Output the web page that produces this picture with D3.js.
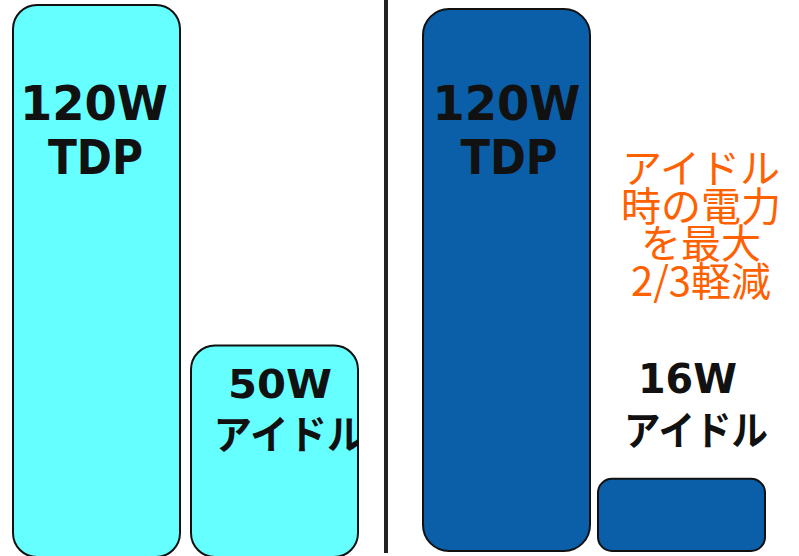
<!DOCTYPE html>
<html>
<head>
<meta charset="utf-8">
<script src="https://cdn.jsdelivr.net/npm/d3@7"></script>
<style>
  html, body { margin: 0; padding: 0; background: #fff; }
  svg { display: block; }
</style>
</head>
<body>
<svg id="chart" width="799" height="556"></svg>
<script>
// ---- data ----
const leftCategories = ["TDP", "アイドル"];
const leftValues = [120, 46];          // bar heights as drawn (W scale)
const leftLabelsTop = ["120W", "50W"];
const leftLabelsBottom = ["TDP", "アイドル"];

const rightCategories = ["TDP", "アイドル"];
const rightValues = [120, 16];
const rightLabelsTop = ["120W", "16W"];
const rightLabelsBottom = ["TDP", "アイドル"];

const noteLines = ["アイドル", "時の電力", "を最大", "2/3軽減"];

// ---- setup ----
const svg = d3.select("#chart");
const LATIN = "'DejaVu Sans', Verdana, sans-serif";
const CJK = "'Noto Sans CJK JP', 'Noto Sans', sans-serif";

const xLeft = d3.scaleBand().domain(d3.range(leftValues.length)).range([13, 358]).paddingInner(0.0618).paddingOuter(0);
const yLeft = d3.scaleLinear().domain([0, 120]).range([557, 5]);
const xRight = d3.scaleBand().domain(d3.range(rightValues.length)).range([423, 765]).paddingInner(0.0457).paddingOuter(0);
const yRight = d3.scaleLinear().domain([0, 120]).range([551, 9]);

const defs = svg.append("defs");

function drawPanel(id, values, x, y, fill, radii, topLabels, bottomLabels, labelCfg) {
  const g = svg.append("g").attr("class", id);
  values.forEach((v, i) => {
    const bx = x(i), bw = x.bandwidth(), by = y(v), bh = y(0) - y(v);
    const clipId = id + "-clip-" + i;
    defs.append("clipPath").attr("id", clipId)
      .append("rect").attr("x", bx).attr("y", by).attr("width", bw).attr("height", bh)
      .attr("rx", radii[i]).attr("ry", radii[i]);
    g.append("rect")
      .attr("x", bx).attr("y", by).attr("width", bw).attr("height", bh)
      .attr("rx", radii[i]).attr("ry", radii[i])
      .attr("fill", fill).attr("stroke", "#111").attr("stroke-width", 2);
    const c = labelCfg[i];
    const tg = g.append("g").attr("clip-path", c.clip ? `url(#${clipId})` : null);
    tg.append("text")
      .attr("x", bx + bw / 2 + c.topDx).attr("y", c.topY)
      .attr("text-anchor", "middle")
      .attr("font-family", LATIN).attr("font-weight", "bold")
      .attr("font-size", c.topSize).attr("fill", "#111")
      .attr("textLength", c.topLen).attr("lengthAdjust", "spacingAndGlyphs")
      .text(topLabels[i]);
    const isCJK = /[\u3000-\u9fff]/.test(bottomLabels[i]);
    tg.append("text")
      .attr("x", bx + bw / 2 + c.botDx).attr("y", c.botY)
      .attr("text-anchor", "middle")
      .attr("font-family", isCJK ? CJK : LATIN).attr("font-weight", "bold")
      .attr("font-size", isCJK ? 40 : c.topSize).attr("fill", "#111")
      .attr("textLength", c.botLen).attr("lengthAdjust", "spacingAndGlyphs")
      .text(bottomLabels[i]);
  });
}

drawPanel("left", leftValues, xLeft, yLeft, "#66FFFF", [24, 24], leftLabelsTop, leftLabelsBottom, [
  { topDx: -2.5, topY: 120, topSize: 48, topLen: 148, botDx: -1, botY: 174, botLen: 95, clip: false },
  { topDx: 5.5, topY: 398, topSize: 39, topLen: 104, botDx: 15, botY: 449, botLen: 152, clip: true }
]);

drawPanel("right", rightValues, xRight, yRight, "#0A5FA8", [26, 14], rightLabelsTop, rightLabelsBottom, [
  { topDx: 0, topY: 120, topSize: 48, topLen: 148, botDx: 2.5, botY: 174, botLen: 97, clip: false },
  { topDx: 6, topY: 393, topSize: 41, topLen: 99, botDx: 14.5, botY: 445, botLen: 144, clip: false }
]);

// orange annotation (one text block, one line per tspan)
const noteX = 701;
const note = svg.append("text")
  .attr("x", noteX).attr("y", 183)
  .attr("text-anchor", "middle")
  .attr("font-family", CJK).attr("font-size", 40)
  .attr("fill", "#FF6100");
note.selectAll("tspan").data(noteLines).join("tspan")
  .attr("x", noteX)
  .attr("dy", (d, i) => i === 0 ? 0 : 37.5)
  .text(d => d);

// divider
svg.append("line")
  .attr("x1", 386).attr("x2", 386).attr("y1", 0).attr("y2", 553)
  .attr("stroke", "#222").attr("stroke-width", 4);
</script>
</body>
</html>
